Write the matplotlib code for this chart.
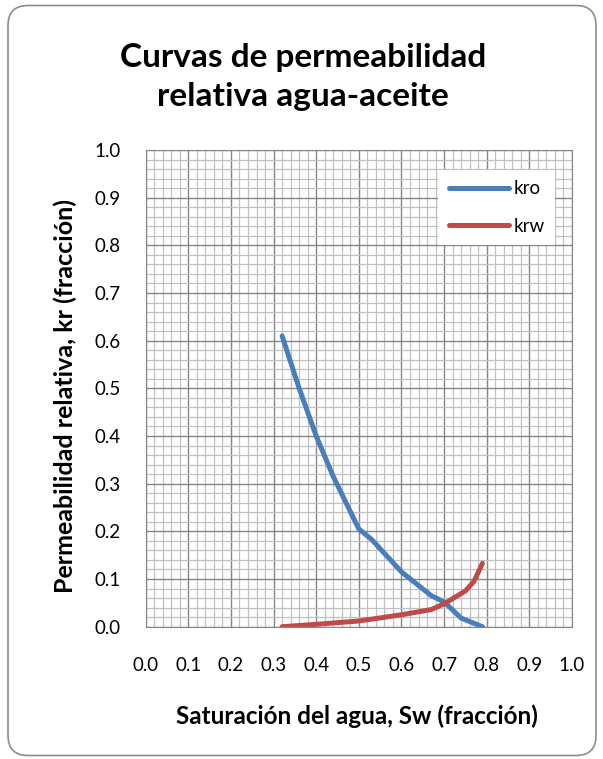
import matplotlib
matplotlib.use("Agg")
import matplotlib.pyplot as plt
from matplotlib.patches import FancyBboxPatch
from matplotlib.ticker import MultipleLocator, FormatStrFormatter

# water saturation / relative permeability
sw_kro = [0.32, 0.36, 0.40, 0.44, 0.50, 0.53, 0.60, 0.67, 0.70, 0.74, 0.79]
kro = [0.61, 0.50, 0.40, 0.315, 0.205, 0.183, 0.115, 0.065, 0.052, 0.018, 0.0]

sw_krw = [0.32, 0.40, 0.50, 0.60, 0.67, 0.70, 0.75, 0.77, 0.79]
krw = [0.0, 0.005, 0.012, 0.025, 0.036, 0.048, 0.075, 0.095, 0.133]

plt.rcParams["font.family"] = ["Lato", "DejaVu Sans"]

fig = plt.figure(figsize=(6.03, 7.59), dpi=100)
ax = fig.add_axes([0.2416, 0.1743, 0.7070, 0.6281])

# chart area border
fig.patches.append(FancyBboxPatch((0.08, 0.035), 5.88, 7.50,
                                  boxstyle="round,pad=0,rounding_size=0.2",
                                  transform=fig.dpi_scale_trans,
                                  fc="none", ec="#8c8c8c", lw=1.2))

ax.plot(sw_kro, kro, color="#4a7ebb", lw=3.6, label="kro", solid_capstyle="round")
ax.plot(sw_krw, krw, color="#be4b48", lw=3.6, label="krw", solid_capstyle="round")

ax.set_xlim(0, 1)
ax.set_ylim(0, 1)
ax.xaxis.set_major_locator(MultipleLocator(0.1))
ax.yaxis.set_major_locator(MultipleLocator(0.1))
ax.xaxis.set_minor_locator(MultipleLocator(0.02))
ax.yaxis.set_minor_locator(MultipleLocator(0.02))
ax.xaxis.set_major_formatter(FormatStrFormatter("%.1f"))
ax.yaxis.set_major_formatter(FormatStrFormatter("%.1f"))
ax.grid(which="minor", color="#c0c0c0", lw=0.9)
ax.grid(which="major", color="#868686", lw=1.0)
ax.set_axisbelow(True)
ax.tick_params(which="both", length=0)
ax.tick_params(axis="x", pad=22, labelsize=13.5)
ax.tick_params(axis="y", pad=18, labelsize=13.5)
for s in ax.spines.values():
    s.set_color("#868686")

leg = ax.legend(loc="upper right", bbox_to_anchor=(0.960, 0.958), borderaxespad=0,
                frameon=True, fancybox=False, edgecolor="white", framealpha=1,
                handlelength=3.2, labelspacing=1.1, fontsize=13.5,
                handletextpad=0.25, borderpad=0.55)
leg.get_frame().set_linewidth(0)

fig.text(0.503, 0.898, "Curvas de permeabilidad\nrelativa agua-aceite",
         ha="center", va="center", fontsize=24, fontweight="bold", linespacing=1.42)
fig.text(0.108, 0.478, "Permeabilidad relativa, kr (fracción)", rotation=90,
         ha="center", va="center", fontsize=18, fontweight="bold")
fig.text(0.592, 0.057, "Saturación del agua, Sw (fracción)",
         ha="center", va="center", fontsize=17.5, fontweight="bold")

fig.savefig("out.png", dpi=100)
